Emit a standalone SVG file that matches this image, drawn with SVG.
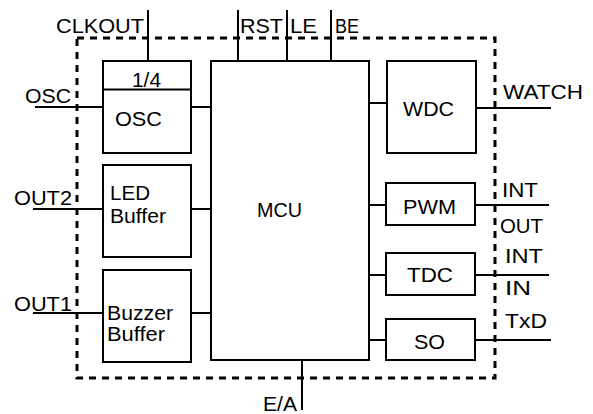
<svg xmlns="http://www.w3.org/2000/svg" width="593" height="414" viewBox="0 0 593 414">
<style>
.box{fill:#fff;stroke:#000;stroke-width:2}
.ln{stroke:#000;stroke-width:2;fill:none}
.frame{fill:none;stroke:#000;stroke-width:3;stroke-dasharray:7 6}
text{font-family:"Liberation Sans",Arial,sans-serif;font-size:20px;fill:#000}
</style>
<rect width="593" height="414" fill="#fff"/>
<rect class="frame" x="77" y="38" width="418" height="340"/>
<g id="connectors">
<line class="ln" x1="148" y1="10" x2="148" y2="61"/>
<line class="ln" x1="238" y1="10" x2="238" y2="61"/>
<line class="ln" x1="287" y1="10" x2="287" y2="61"/>
<line class="ln" x1="331" y1="10" x2="331" y2="61"/>
<line class="ln" x1="35" y1="107" x2="103" y2="107"/>
<line class="ln" x1="191" y1="107" x2="211" y2="107"/>
<line class="ln" x1="33" y1="209" x2="103" y2="209"/>
<line class="ln" x1="191" y1="209" x2="211" y2="209"/>
<line class="ln" x1="33" y1="313" x2="103" y2="313"/>
<line class="ln" x1="191" y1="313" x2="211" y2="313"/>
<line class="ln" x1="367" y1="103" x2="387" y2="103"/>
<line class="ln" x1="476" y1="108" x2="551" y2="108"/>
<line class="ln" x1="367" y1="205" x2="386" y2="205"/>
<line class="ln" x1="475" y1="205" x2="549" y2="205"/>
<line class="ln" x1="367" y1="275" x2="386" y2="275"/>
<line class="ln" x1="475" y1="275" x2="549" y2="275"/>
<line class="ln" x1="367" y1="340" x2="386" y2="340"/>
<line class="ln" x1="475" y1="340" x2="551" y2="340"/>
<line class="ln" x1="302" y1="360" x2="302" y2="410"/>
</g>
<g id="osc">
<rect class="box" x="103" y="61" width="88" height="92"/>
<line class="ln" x1="103" y1="89.5" x2="191" y2="89.5"/>
<text x="132" y="87" textLength="29" lengthAdjust="spacingAndGlyphs">1/4</text>
<text x="115" y="126" textLength="47" lengthAdjust="spacingAndGlyphs">OSC</text>
</g>
<g id="led">
<rect class="box" x="103" y="165" width="88" height="92"/>
<text x="110" y="200" textLength="40" lengthAdjust="spacingAndGlyphs">LED</text>
<text x="110" y="223" textLength="56" lengthAdjust="spacingAndGlyphs">Buffer</text>
</g>
<g id="buzzer">
<rect class="box" x="103" y="270" width="88" height="92"/>
<text x="107" y="320" textLength="66" lengthAdjust="spacingAndGlyphs">Buzzer</text>
<text x="107" y="341" textLength="58" lengthAdjust="spacingAndGlyphs">Buffer</text>
</g>
<g id="mcu">
<rect class="box" x="211" y="61" width="158" height="299"/>
<text x="257" y="217" textLength="45" lengthAdjust="spacingAndGlyphs">MCU</text>
</g>
<g id="wdc">
<rect class="box" x="387" y="61" width="89" height="92"/>
<text x="403" y="116" textLength="51" lengthAdjust="spacingAndGlyphs">WDC</text>
</g>
<g id="pwm">
<rect class="box" x="386" y="183" width="89" height="42"/>
<text x="403" y="214" textLength="53" lengthAdjust="spacingAndGlyphs">PWM</text>
</g>
<g id="tdc">
<rect class="box" x="386" y="253" width="89" height="42"/>
<text x="407" y="282" textLength="46" lengthAdjust="spacingAndGlyphs">TDC</text>
</g>
<g id="so">
<rect class="box" x="386" y="319" width="89" height="41"/>
<text x="414" y="349" textLength="31" lengthAdjust="spacingAndGlyphs">SO</text>
</g>
<g id="labels">
<text x="56" y="33" textLength="88" lengthAdjust="spacingAndGlyphs">CLKOUT</text>
<text x="240" y="33" textLength="43" lengthAdjust="spacingAndGlyphs">RST</text>
<text x="290" y="33" textLength="27" lengthAdjust="spacingAndGlyphs">LE</text>
<text x="335" y="33" textLength="24" lengthAdjust="spacingAndGlyphs">BE</text>
<text x="25" y="103" textLength="46" lengthAdjust="spacingAndGlyphs">OSC</text>
<text x="14" y="205" textLength="58" lengthAdjust="spacingAndGlyphs">OUT2</text>
<text x="14" y="311" textLength="58" lengthAdjust="spacingAndGlyphs">OUT1</text>
<text x="503" y="99" textLength="80" lengthAdjust="spacingAndGlyphs">WATCH</text>
<text x="502" y="197" textLength="36" lengthAdjust="spacingAndGlyphs">INT</text>
<text x="500" y="233" textLength="43" lengthAdjust="spacingAndGlyphs">OUT</text>
<text x="505" y="263" textLength="38" lengthAdjust="spacingAndGlyphs">INT</text>
<text x="505" y="295" textLength="26" lengthAdjust="spacingAndGlyphs">IN</text>
<text x="505" y="328" textLength="42" lengthAdjust="spacingAndGlyphs">TxD</text>
<text x="263" y="411" textLength="34" lengthAdjust="spacingAndGlyphs">E/A</text>
</g>
</svg>
